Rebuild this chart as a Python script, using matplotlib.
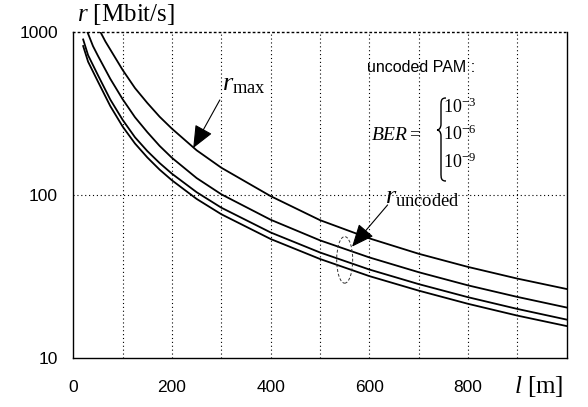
import matplotlib
matplotlib.use("Agg")
import matplotlib.pyplot as plt
from matplotlib.patches import Ellipse, PathPatch
from matplotlib.path import Path

# data (l in m, r in Mbit/s)
l_max = [55, 65, 75, 100, 125, 150, 175, 200, 250, 300, 400, 500, 600, 700, 800, 900, 1000]
r_max = [1000, 875, 780, 585, 453, 367, 302, 255, 188, 147, 98.4, 70.1, 54.2, 43.6, 36.2, 30.7, 26.5]

l_ber3 = [28.6, 40, 50, 75, 100, 125, 150, 175, 200, 250, 300, 400, 500, 600, 700, 800, 900, 1000]
r_ber3 = [1000, 818, 714, 516, 387, 300, 243, 200, 169, 127, 101, 70.5, 52.7, 41.4, 33.6, 27.9, 23.7, 20.4]

l_ber6 = [20, 30, 50, 75, 100, 125, 150, 175, 200, 250, 300, 400, 500, 600, 700, 800, 900, 1000]
r_ber6 = [900, 720, 543, 385, 289, 226, 186, 157, 135, 104, 83.6, 58.9, 44.4, 34.9, 28.4, 23.6, 20.0, 17.2]

l_ber9 = [20, 30, 50, 75, 100, 125, 150, 175, 200, 250, 300, 400, 500, 600, 700, 800, 900, 1000]
r_ber9 = [820, 657, 496, 351, 263, 207, 170, 143, 123, 94.6, 76.2, 53.7, 40.5, 31.8, 25.9, 21.5, 18.2, 15.7]

x_ticks = [0, 200, 400, 600, 800]
y_ticks = [10, 100, 1000]
grid_x = [100, 200, 300, 400, 500, 600, 700, 800, 900]

plt.rcParams['mathtext.fontset'] = 'custom'
plt.rcParams['mathtext.rm'] = 'Liberation Serif'
plt.rcParams['mathtext.it'] = 'Liberation Serif:italic'
plt.rcParams['font.family'] = ['Liberation Sans', 'DejaVu Sans']

W, H = 588, 407
fig = plt.figure(figsize=(W / 100, H / 100), dpi=100)
ax = fig.add_axes([73.3 / W, 49 / H, 493.4 / W, 326 / H])


def px(x, y):
    # figure pixel (top-left origin) -> figure fraction
    return (x / W, 1 - y / H)


dots = (0, (1, 2.5))
for g in grid_x:
    ax.axvline(g, color='k', lw=0.8, ls=dots, zorder=1)
ax.axhline(100, color='k', lw=0.8, ls=dots, zorder=1)

for l, r in [(l_max, r_max), (l_ber3, r_ber3), (l_ber6, r_ber6), (l_ber9, r_ber9)]:
    ax.plot(l, r, color='k', lw=1.3, zorder=3)

ax.set_yscale('log')
ax.set_xlim(0, 1000)
ax.set_ylim(10, 1000)
ax.set_xticks(x_ticks, [str(v) for v in x_ticks])
ax.set_yticks(y_ticks, [str(v) for v in y_ticks])
ax.minorticks_off()
ax.tick_params(axis='x', length=0, pad=16, labelsize=12.5)
ax.tick_params(axis='y', length=0, pad=11, labelsize=12.5)
ax.spines['top'].set_linestyle(dots)
for s in ax.spines.values():
    s.set_linewidth(1.0)

# axis labels
fig.text(*px(77, 21), '$r$ [Mbit/s]', fontsize=18, family='Liberation Serif',
         ha='left', va='baseline')
fig.text(*px(514, 393), '$l$ [m]', fontsize=18, family='Liberation Serif',
         ha='left', va='baseline')

# curve labels and arrows
arrow = dict(arrowstyle='-|>,head_length=0.7,head_width=0.3', mutation_scale=20,
             lw=0.8, color='k', shrinkA=0, shrinkB=0)
fig.text(*px(222, 90), r'$r_{\mathrm{max}}$', fontsize=19, ha='left', va='baseline')
ax.annotate('', xy=(243, 194), xytext=(297, 383), arrowprops=arrow)

fig.text(*px(385, 203), r'$r_{\mathrm{uncoded}}$', fontsize=19, ha='left', va='baseline')
ax.annotate('', xy=(565, 48.2), xytext=(637, 86.9), arrowprops=arrow)

ax.add_patch(Ellipse((0.550, 0.301), 0.0324, 0.143, transform=ax.transAxes,
                     fill=False, ec='#333333', lw=0.7, ls=(0, (3, 2)), zorder=4))

# BER annotation
fig.text(*px(421, 72), 'uncoded PAM :', fontsize=11.5, ha='center', va='baseline')
fig.text(*px(371, 140), '$BER=$', fontsize=14, ha='left', va='baseline')
for yb, e in [(113, '-3'), (140, '-6'), (168, '-9')]:
    fig.text(*px(443, yb), '$10^{%s}$' % e, fontsize=13, ha='left', va='baseline')

brace = [(446, 98), (441, 98), (441, 101), (441, 106), (441, 124),
         (441, 128), (439, 130), (437, 130), (439, 130), (441, 132), (441, 136),
         (441, 173), (441, 178), (441, 181), (446, 181)]
codes = [Path.MOVETO, Path.CURVE4, Path.CURVE4, Path.CURVE4, Path.LINETO,
         Path.CURVE4, Path.CURVE4, Path.CURVE4, Path.CURVE4, Path.CURVE4, Path.CURVE4,
         Path.LINETO, Path.CURVE4, Path.CURVE4, Path.CURVE4]
fig.patches.append(PathPatch(Path([px(*p) for p in brace], codes), fill=False,
                             lw=1.0, ec='k', transform=fig.transFigure))

fig.savefig('out.png', dpi=100)
